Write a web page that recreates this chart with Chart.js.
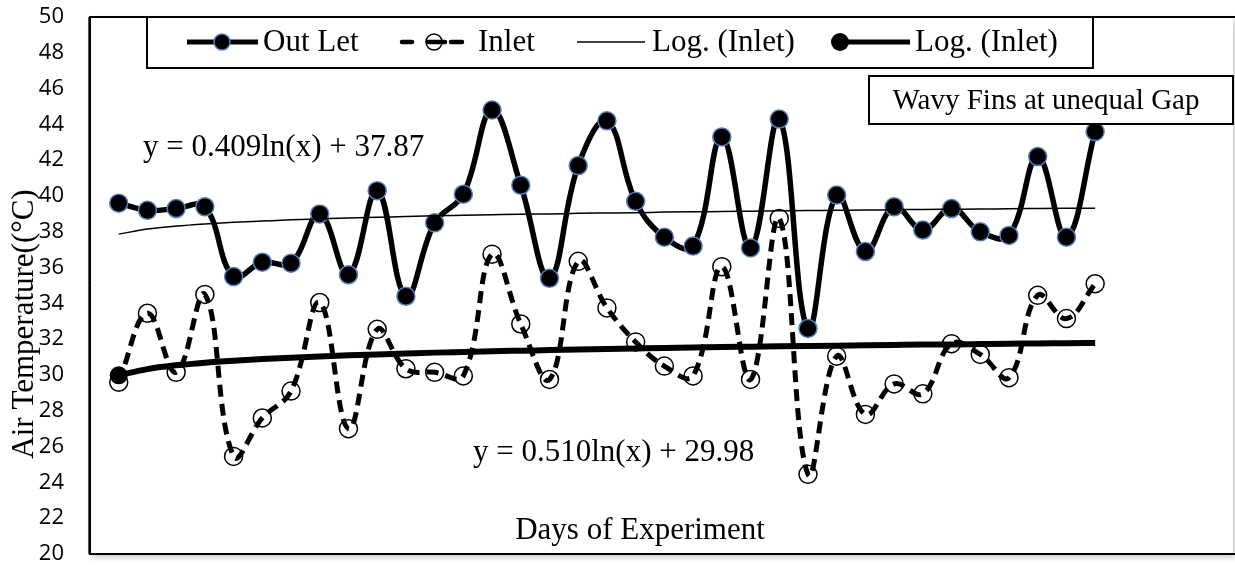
<!DOCTYPE html>
<html><head><meta charset="utf-8">
<script src="https://cdn.jsdelivr.net/npm/chart.js@4/dist/chart.umd.min.js"></script>
<style>html,body{margin:0;padding:0;background:#fff}#wrap{width:1235px;height:567px;position:relative}</style>
</head><body><div id="wrap"><canvas id="c" width="1235" height="567"></canvas></div>
<script>
const days = [1,2,3,4,5,6,7,8,9,10,11,12,13,14,15,16,17,18,19,20,21,22,23,24,25,26,27,28,29,30,31,32,33,34,35];
const outLet = [39.6,39.2,39.3,39.4,35.5,36.3,36.25,39.0,35.6,40.3,34.4,38.5,40.1,44.8,40.6,35.4,41.7,44.2,39.7,37.7,37.2,43.3,37.1,44.3,32.6,40.05,36.9,39.4,38.1,39.3,38.0,37.8,42.2,37.7,43.6];
const inlet = [29.6,33.45,30.15,34.5,25.45,27.6,29.1,34.05,27.0,32.55,30.35,30.15,29.95,36.75,32.85,29.75,36.35,33.75,31.85,30.5,29.95,36.05,29.75,38.75,24.45,31.05,27.8,29.5,28.95,31.75,31.15,29.85,34.45,33.15,35.1];
const logOutLet = [37.87,38.15,38.32,38.44,38.53,38.60,38.67,38.72,38.77,38.81,38.85,38.89,38.92,38.95,38.98,39.00,39.03,39.05,39.07,39.10,39.12,39.13,39.15,39.17,39.19,39.20,39.22,39.23,39.25,39.26,39.27,39.29,39.30,39.31,39.32];
const logInlet = [29.98,30.33,30.54,30.69,30.80,30.89,30.97,31.04,31.10,31.15,31.20,31.25,31.29,31.33,31.36,31.39,31.42,31.45,31.48,31.51,31.53,31.56,31.58,31.60,31.62,31.64,31.66,31.68,31.70,31.71,31.73,31.75,31.76,31.78,31.79];
const yTicks = [20,22,24,26,28,30,32,34,36,38,40,42,44,46,48,50];
const legendLabels = ['Out Let','Inlet','Log. (Inlet)','Log. (Inlet)'];
const eqOutLet = 'y = 0.409ln(x) + 37.87';
const eqInlet = 'y = 0.510ln(x) + 29.98';
const boxText = 'Wavy Fins at unequal Gap';
const xTitle = 'Days of Experiment';
const yTitle = 'Air Temperature((°C)';

const SERIF = "'Liberation Serif','Times New Roman',serif";
const BLUE = '#4f81bd';
const pts = arr => arr.map((v,i)=>({x:days[i], y:v}));

const annot = {
  id:'annot',
  beforeDatasetsDraw(chart){
    const {ctx, chartArea:a} = chart;
    ctx.save();
    ctx.shadowColor='rgba(0,0,0,0.25)'; ctx.shadowBlur=6; ctx.shadowOffsetX=2; ctx.shadowOffsetY=3;
    ctx.fillStyle='#fff';
    ctx.fillRect(a.left,a.top,a.right-a.left,a.bottom-a.top);
    ctx.restore();
  },
  afterDraw(chart){
    const {ctx, chartArea:a} = chart;
    ctx.save();
    ctx.strokeStyle='#000'; ctx.lineWidth=2;
    ctx.beginPath();
    ctx.moveTo(a.right+2,a.top); ctx.lineTo(a.left,a.top); ctx.lineTo(a.left,a.bottom); ctx.lineTo(a.right+2,a.bottom);
    ctx.stroke();
    ctx.strokeStyle='#555'; ctx.lineWidth=1;
    ctx.beginPath(); ctx.moveTo(a.left-1.5,a.top); ctx.lineTo(a.left-1.5,a.bottom); ctx.stroke();
    // legend box
    ctx.fillStyle='#fff'; ctx.fillRect(147,17,946,51);
    ctx.strokeStyle='#000'; ctx.lineWidth=2; ctx.strokeRect(147,17,946,51);
    const ly=42;
    ctx.font='31px '+SERIF; ctx.fillStyle='#000'; ctx.textBaseline='middle'; ctx.textAlign='left';
    ctx.lineWidth=5; ctx.beginPath(); ctx.moveTo(187,ly); ctx.lineTo(258,ly); ctx.stroke();
    ctx.beginPath(); ctx.arc(222,ly,8,0,Math.PI*2); ctx.fillStyle='#000'; ctx.fill(); ctx.lineWidth=1.5; ctx.strokeStyle=BLUE; ctx.stroke();
    ctx.fillStyle='#000'; ctx.fillText(legendLabels[0],263,ly+1);
    ctx.strokeStyle='#000'; ctx.lineWidth=4.5; ctx.lineCap='round';
    ctx.beginPath(); ctx.moveTo(402,ly); ctx.lineTo(412,ly); ctx.moveTo(451,ly); ctx.lineTo(462,ly); ctx.stroke();
    ctx.beginPath(); ctx.moveTo(428,ly); ctx.lineTo(445,ly); ctx.stroke();
    ctx.lineCap='butt';
    ctx.beginPath(); ctx.arc(434,ly,8,0,Math.PI*2); ctx.lineWidth=1.5; ctx.stroke();
    ctx.fillText(legendLabels[1],478,ly+1);
    ctx.lineWidth=1.5; ctx.beginPath(); ctx.moveTo(577,ly); ctx.lineTo(645,ly); ctx.stroke();
    ctx.fillText(legendLabels[2],652,ly+1);
    ctx.lineWidth=5; ctx.beginPath(); ctx.moveTo(840,ly); ctx.lineTo(910,ly); ctx.stroke();
    ctx.beginPath(); ctx.arc(840,ly,9,0,Math.PI*2); ctx.fill();
    ctx.fillText(legendLabels[3],915,ly+1);
    // text box
    ctx.fillStyle='#fff'; ctx.fillRect(869,76,364,48);
    ctx.lineWidth=2; ctx.strokeRect(869,76,364,48);
    ctx.fillStyle='#000'; ctx.font='29px '+SERIF; ctx.textAlign='center';
    ctx.fillText(boxText,1046,101);
    ctx.font='31px '+SERIF; ctx.textAlign='left';
    ctx.fillText(eqOutLet,143,148);
    ctx.fillText(eqInlet,473,453);
    ctx.textAlign='center';
    ctx.fillText(xTitle,640,531);
    ctx.translate(25,324); ctx.rotate(-Math.PI/2);
    ctx.fillText(yTitle,0,0);
    ctx.restore();
  }
};

new Chart(document.getElementById('c'),{
  type:'line',
  data:{datasets:[
    {label:legendLabels[3], data:pts(logInlet), borderColor:'#000', borderWidth:6, cubicInterpolationMode:'monotone',
     pointRadius:logInlet.map((v,i)=>i===0?9:0), pointBackgroundColor:'#000', pointBorderWidth:0, order:1},
    {label:legendLabels[2], data:pts(logOutLet), borderColor:'#000', borderWidth:1.5, cubicInterpolationMode:'monotone', pointRadius:0, order:2},
    {label:legendLabels[0], data:pts(outLet), borderColor:'#000', borderWidth:5.5, tension:0.4,
     pointRadius:9, pointBackgroundColor:'#000', pointBorderColor:BLUE, pointBorderWidth:1.5, order:3},
    {label:legendLabels[1], data:pts(inlet), borderColor:'#000', borderWidth:5, borderDash:[12,7], tension:0.4,
     pointRadius:0, order:4},
    {label:legendLabels[1]+' markers', data:pts(inlet), showLine:false,
     pointRadius:9, pointBackgroundColor:'#fff', pointBorderColor:'#000', pointBorderWidth:1.5, order:5}
  ]},
  options:{
    responsive:false, animation:false, devicePixelRatio:1,
    layout:{autoPadding:false, padding:{left:0,right:2,top:17,bottom:13}},
    plugins:{legend:{display:false}, tooltip:{enabled:false}},
    scales:{
      x:{type:'linear', min:0, max:39.8, display:false, afterFit(s){s.paddingLeft=0;s.paddingRight=0;s.paddingTop=0;s.paddingBottom=0;}},
      y:{min:20, max:50, afterFit(s){s.width=90;s.paddingTop=0;s.paddingBottom=0;s.paddingLeft=0;s.paddingRight=0;},
         afterBuildTicks(s){s.ticks=yTicks.map(v=>({value:v}));},
         grid:{display:false, drawTicks:false}, border:{display:false},
         ticks:{padding:26, color:'#000', font:{family:"'Open Sans','Liberation Sans',sans-serif", size:22}}}
    }
  },
  plugins:[annot]
});
</script></body></html>
